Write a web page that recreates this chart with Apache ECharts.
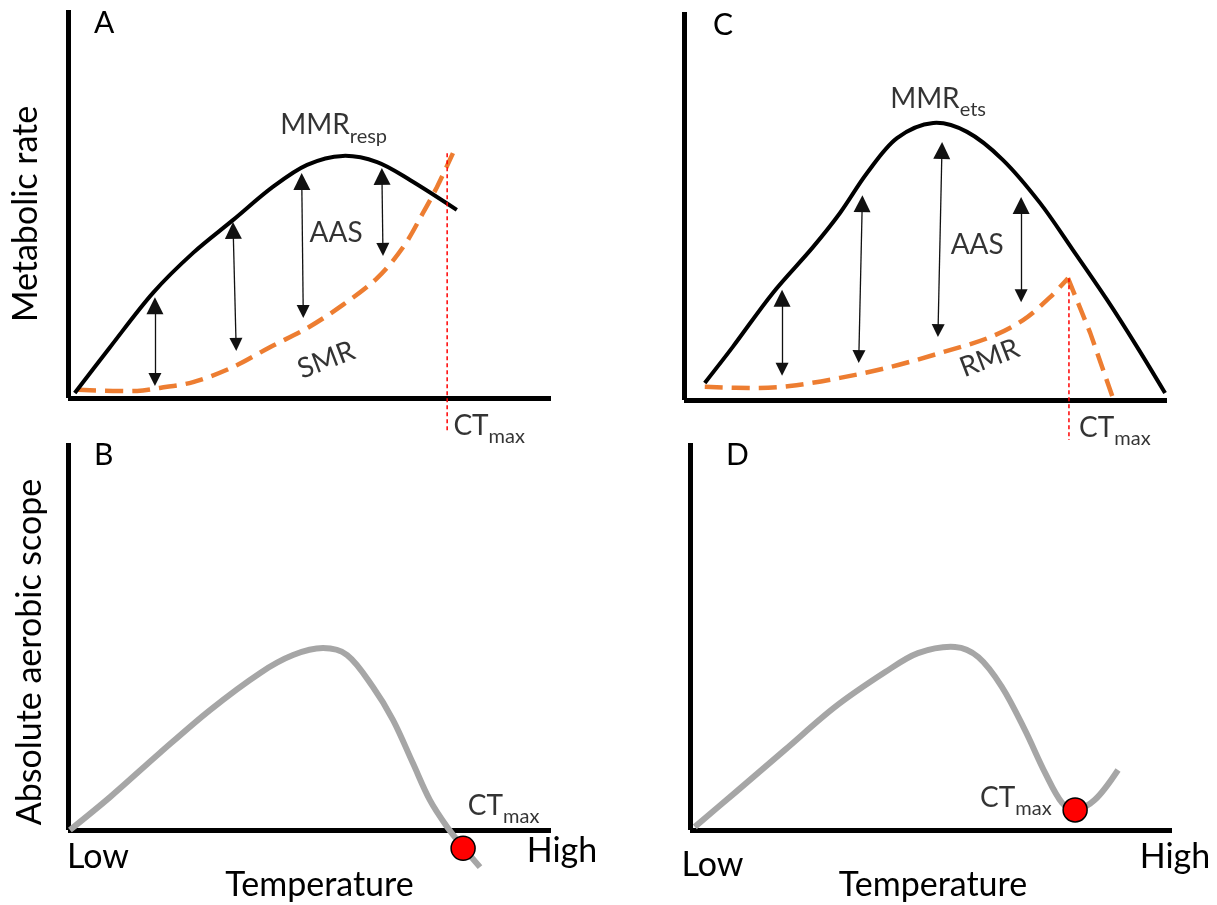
<!DOCTYPE html>
<html>
<head>
<meta charset="utf-8">
<script src="https://cdn.jsdelivr.net/npm/echarts@6/dist/echarts.min.js"></script>
<style>
  html, body { margin: 0; padding: 0; background: #fff; }
  #chart { width: 1217px; height: 905px; }
</style>
</head>
<body>
<div id="chart"></div>
<script>
// relative units everywhere: temperature 0 (low) .. 100 (high), rate / scope 0 .. 100
const tempTicks = ['Low', 'High']
const panelNames = ['A', 'B', 'C', 'D']

// A: MMR from respirometry, SMR, CTmax
const mmrResp = [[1.4, 1.3], [8.7, 13.1], [17.6, 27.1], [25.9, 37.4], [34.2, 45.9], [42.4, 54.4], [49.5, 60.1], [56.9, 62.4], [64.0, 60.8], [70.8, 56.2], [80.5, 48.5]]
const smr = [[2.1, 2.1], [14.3, 1.8], [19.0, 2.6], [25.9, 4.1], [34.2, 8.0], [41.8, 13.1], [49.5, 18.0], [56.9, 24.0], [64.0, 30.9], [69.4, 38.9], [73.5, 47.7], [76.4, 54.4], [79.7, 63.1]]
const ctMaxLineA = [[78.5, 63.1], [78.5, -9]]
const arrowsA = [
  [[18.0, 4.8], [18.0, 23.8]],
  [[34.8, 13.8], [34.2, 43.2]],
  [[48.7, 22.3], [48.4, 55.8]],
  [[65.2, 38.3], [65.0, 57.1]]
]
const labelTextA = ['MMR|resp', 'AAS', 'SMR', 'CT|max']
const labelPosA = [[55.0, 69.8], [55.5, 42.0], [53.6, 9.3], [87.2, -7.7]]

// B: absolute aerobic scope from A
const aasB = [[0.4, 0], [8.7, 8.5], [19.0, 19.9], [29.4, 31.0], [39.8, 40.6], [46.6, 45.2], [52.8, 47.0], [57.8, 45.2], [63.1, 37.0], [67.3, 28.4], [71.4, 17.3], [74.9, 7.8], [78.5, 0.8], [81.8, -4.4], [85.3, -9.6]]
const ctMaxPointB = [[81.8, -4.7]]
const labelTextB = ['CT|max']
const labelPosB = [[90.2, 5.7]]

// C: MMR from ETS activity, RMR, CTmax
const mmrEts = [[4.3, 4.4], [10.1, 13.7], [18.4, 27.6], [26.7, 39.4], [32.3, 48.2], [37.9, 58.5], [44.1, 67.5], [51.6, 71.4], [58.6, 69.1], [66.0, 61.9], [73.7, 50.8], [80.5, 38.7], [87.6, 25.8], [93.8, 13.7], [99.6, 1.8]]
const rmrRise = [[4.3, 3.4], [15.1, 3.1], [21.9, 3.6], [32.3, 5.7], [42.7, 8.5], [53.0, 12.1], [63.4, 16.2], [70.2, 20.6], [75.8, 26.5], [79.5, 31.4]]
const rmrFall = [[79.5, 31.4], [84.1, 17.3], [88.8, 0.5]]
const ctMaxLineC = [[79.7, 31.4], [79.7, -10.3]]
const arrowsC = [
  [[20.3, 7.9], [20.3, 26.2]],
  [[36.2, 11.2], [36.9, 50.6]],
  [[52.6, 17.9], [53.4, 64.3]],
  [[69.8, 26.9], [69.8, 50.1]]
]
const labelTextC = ['MMR|ets', 'AAS', 'RMR', 'CT|max']
const labelPosC = [[52.6, 77.1], [60.7, 39.4], [63.4, 10.3], [89.2, -7.7]]

// D: absolute aerobic scope from C
const aasD = [[1.0, 0.8], [9.3, 9.6], [19.7, 20.7], [30.1, 31.8], [40.5, 40.8], [47.3, 45.7], [55.0, 47.3], [59.8, 44.7], [64.7, 37.0], [69.5, 25.8], [73.7, 14.7], [77.2, 7.0], [79.9, 5.2], [84.0, 7.8], [88.8, 15.5]]
const ctMaxPointD = [[79.9, 5.2]]
const labelTextD = ['CT|max']
const labelPosD = [[67.6, 7.8]]

const FONT = 'Lato, "Open Sans", sans-serif'
const tilted = ['SMR', 'RMR']

const chart = echarts.init(document.getElementById('chart'))

// grid order: 0 = A, 1 = B, 2 = C, 3 = D
const grids = [
  { left: 68, top: 10, width: 483, height: 388, outerBoundsMode: 'none', containLabel: false },
  { left: 68, top: 443, width: 483, height: 387, outerBoundsMode: 'none', containLabel: false },
  { left: 684, top: 12, width: 483, height: 388, outerBoundsMode: 'none', containLabel: false },
  { left: 690, top: 443, width: 482, height: 387, outerBoundsMode: 'none', containLabel: false }
]

const axisLine = { show: true, onZero: false, lineStyle: { color: '#000', width: 5, cap: 'butt' } }

const tempLabel = (loPad, hiPad) => ({
  show: true,
  margin: 4,
  showMinLabel: true,
  showMaxLabel: true,
  fontFamily: FONT,
  fontSize: 34,
  color: '#000',
  formatter: (v) => (v === 0 ? `{lo|${tempTicks[0]}}` : `{hi|${tempTicks[1]}}`),
  rich: {
    lo: { fontFamily: FONT, fontSize: 34, color: '#000', padding: loPad },
    hi: { fontFamily: FONT, fontSize: 34, color: '#000', padding: hiPad }
  }
})

const xAxes = grids.map((g, i) => {
  const ax = {
    gridIndex: i,
    type: 'value',
    min: 0,
    max: 100,
    interval: 100,
    axisLine,
    axisTick: { show: false },
    splitLine: { show: false },
    axisLabel: { show: false }
  }
  if (i === 1 || i === 3) {
    ax.name = 'Temperature'
    ax.nameLocation = 'middle'
    ax.nameGap = 38
    ax.nameMoveOverlap = false
    ax.nameTextStyle = { fontFamily: FONT, fontSize: 34, color: '#000', padding: i === 1 ? [0, 0, 0, 20] : [0, 0, 0, 4] }
    ax.axisLabel = i === 1 ? tempLabel([6, 0, 0, 60], [0, 0, 0, 22]) : tempLabel([14, 0, 0, 45], [6, 0, 0, 6])
  }
  return ax
})

const yAxes = grids.map((g, i) => {
  const ax = {
    gridIndex: i,
    type: 'value',
    min: 0,
    max: 100,
    axisLine,
    axisTick: { show: false },
    splitLine: { show: false },
    axisLabel: { show: false }
  }
  if (i === 0) {
    ax.name = 'Metabolic rate'
    ax.nameLocation = 'middle'
    ax.nameRotate = 90
    ax.nameGap = 25
    ax.nameTextStyle = { fontFamily: FONT, fontSize: 34, color: '#000', padding: [0, 20, 0, 0] }
  }
  if (i === 1) {
    ax.name = 'Absolute aerobic scope'
    ax.nameLocation = 'middle'
    ax.nameRotate = 90
    ax.nameGap = 21
    ax.nameTextStyle = { fontFamily: FONT, fontSize: 34, color: '#000', padding: [0, 31, 0, 0] }
  }
  return ax
})

// smooth curve through the points, positioned with api.coord of the grid's axes
const curve = (g, data, color, width, dash, z) => ({
  type: 'custom',
  coordinateSystem: 'cartesian2d',
  xAxisIndex: g,
  yAxisIndex: g,
  data,
  encode: { x: 0, y: 1 },
  silent: true,
  z: z || 2,
  renderItem: (params, api) => {
    if (params.dataIndex !== 0) return null
    return {
      type: 'polyline',
      shape: { points: data.map((p) => api.coord(p)), smooth: 0.33 },
      style: { stroke: color, lineWidth: width, lineDash: dash || null, fill: null, lineCap: 'butt' }
    }
  }
})

const straight = (g, data, color, width, dash, z) => ({
  type: 'line',
  xAxisIndex: g,
  yAxisIndex: g,
  data,
  showSymbol: false,
  symbol: 'none',
  clip: false,
  silent: true,
  z: z || 2,
  lineStyle: { color, width, type: dash || 'solid', cap: 'butt' }
})

const arrows = (g, list) => ({
  type: 'lines',
  coordinateSystem: 'cartesian2d',
  xAxisIndex: g,
  yAxisIndex: g,
  silent: true,
  z: 4,
  symbol: ['triangle', 'triangle'],
  symbolSize: [13, 17],
  lineStyle: { color: '#111', width: 1.3, opacity: 1 },
  data: list.map((c) => ({ coords: c }))
})

const dot = (g, data) => ({
  type: 'scatter',
  xAxisIndex: g,
  yAxisIndex: g,
  data,
  clip: false,
  silent: true,
  z: 5,
  symbolSize: 24,
  itemStyle: { color: '#ff0000', borderColor: '#000', borderWidth: 1.5, opacity: 1 }
})

const labels = (g, texts, pos) => ({
  type: 'scatter',
  xAxisIndex: g,
  yAxisIndex: g,
  clip: false,
  silent: true,
  z: 6,
  symbolSize: 1,
  itemStyle: { color: 'transparent' },
  data: pos.map((p, i) => {
    const item = { value: p, name: texts[i] }
    if (tilted.includes(texts[i])) item.label = { rotate: 21 }
    return item
  }),
  label: {
    show: true,
    position: 'inside',
    color: '#000',
    formatter: (p) => {
      const [main, sub] = p.name.split('|')
      return sub ? `{m|${main}}{s|${sub}}` : `{m|${main}}`
    },
    rich: {
      m: { fontFamily: FONT, fontSize: 28, color: '#000', lineHeight: 32, verticalAlign: 'top' },
      s: { fontFamily: FONT, fontSize: 20, color: '#000', lineHeight: 20, verticalAlign: 'top', padding: [15, 0, 0, 0] }
    }
  }
})

const ORANGE = '#ED7D31'
const GREY = '#A6A6A6'

const option = {
  animation: false,
  backgroundColor: '#fff',
  title: panelNames.map((t, i) => ({
    text: t,
    left: [94, 94, 713, 726][i],
    top: [8, 440, 10, 440][i],
    padding: 0,
    textStyle: { fontFamily: FONT, fontSize: 30, fontWeight: 'normal', color: '#000' }
  })),
  grid: grids,
  xAxis: xAxes,
  yAxis: yAxes,
  series: [
    // A
    curve(0, smr, ORANGE, 4.5, [18, 9], 2),
    curve(0, mmrResp, '#000', 4, null, 3),
    straight(0, ctMaxLineA, '#ff0000', 1.5, [4, 3], 4),
    arrows(0, arrowsA),
    labels(0, labelTextA, labelPosA),
    // B
    curve(1, aasB, GREY, 6, null, 2),
    dot(1, ctMaxPointB),
    labels(1, labelTextB, labelPosB),
    // C
    curve(2, rmrRise, ORANGE, 4.5, [18, 9], 2),
    straight(2, rmrFall, ORANGE, 4.5, [18, 9], 2),
    curve(2, mmrEts, '#000', 4, null, 3),
    straight(2, ctMaxLineC, '#ff0000', 1.5, [4, 3], 4),
    arrows(2, arrowsC),
    labels(2, labelTextC, labelPosC),
    // D
    curve(3, aasD, GREY, 6, null, 2),
    dot(3, ctMaxPointD),
    labels(3, labelTextD, labelPosD)
  ]
}

chart.setOption(option)
</script>
</body>
</html>
